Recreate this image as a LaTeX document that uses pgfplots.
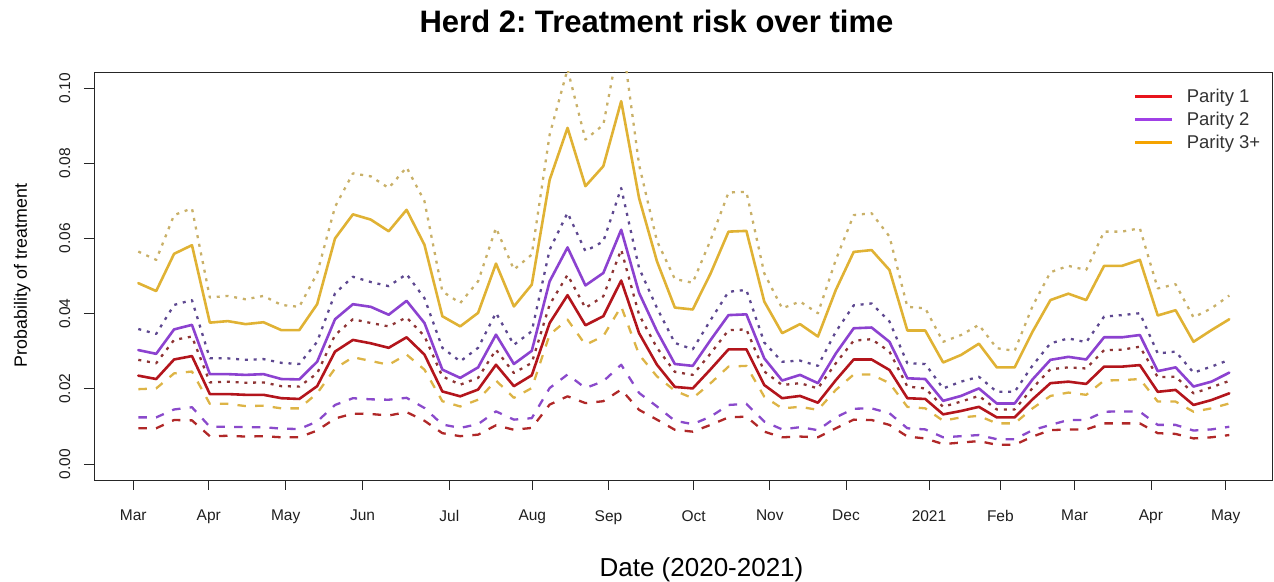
\documentclass[border=0pt]{standalone}
\usepackage{pgfplots}
\pgfplotsset{compat=1.18}
\usepackage{pgfplotstable}
\usepackage{fontspec}
\setmainfont{Liberation Sans}
\frenchspacing

% weekly estimates: mean (m), lower (lo) and upper (hi) bound per parity group
\pgfplotstableread{
k  m1     lo1    hi1    m2     lo2    hi2    m3     lo3    hi3
0  0.0235 0.0095 0.0277 0.0303 0.0124 0.0359 0.0481 0.0199 0.0565
1  0.0226 0.0095 0.0268 0.0293 0.0124 0.0346 0.0460 0.0201 0.0543
2  0.0278 0.0117 0.0330 0.0358 0.0145 0.0423 0.0559 0.0241 0.0662
3  0.0287 0.0116 0.0339 0.0370 0.0151 0.0436 0.0582 0.0246 0.0680
4  0.0186 0.0074 0.0217 0.0239 0.0099 0.0281 0.0376 0.0160 0.0443
5  0.0186 0.0075 0.0219 0.0239 0.0099 0.0281 0.0380 0.0160 0.0447
6  0.0184 0.0073 0.0216 0.0237 0.0098 0.0277 0.0372 0.0154 0.0438
7  0.0184 0.0074 0.0217 0.0239 0.0098 0.0279 0.0377 0.0155 0.0447
8  0.0175 0.0071 0.0207 0.0226 0.0094 0.0269 0.0356 0.0148 0.0423
9  0.0173 0.0071 0.0206 0.0225 0.0093 0.0266 0.0356 0.0148 0.0418
10 0.0207 0.0089 0.0241 0.0272 0.0113 0.0325 0.0425 0.0188 0.0507
11 0.0299 0.0121 0.0343 0.0385 0.0157 0.0454 0.0600 0.0254 0.0684
12 0.0330 0.0134 0.0385 0.0425 0.0175 0.0498 0.0664 0.0284 0.0773
13 0.0321 0.0133 0.0375 0.0418 0.0172 0.0484 0.0650 0.0274 0.0765
14 0.0309 0.0129 0.0366 0.0397 0.0171 0.0473 0.0619 0.0264 0.0734
15 0.0337 0.0138 0.0390 0.0434 0.0176 0.0505 0.0676 0.0291 0.0789
16 0.0291 0.0115 0.0340 0.0375 0.0149 0.0441 0.0583 0.0251 0.0699
17 0.0193 0.0082 0.0233 0.0251 0.0105 0.0309 0.0393 0.0167 0.0459
18 0.0180 0.0074 0.0211 0.0229 0.0096 0.0273 0.0366 0.0153 0.0428
19 0.0198 0.0078 0.0229 0.0257 0.0106 0.0309 0.0402 0.0171 0.0486
20 0.0264 0.0103 0.0304 0.0344 0.0140 0.0402 0.0533 0.0222 0.0628
21 0.0207 0.0091 0.0242 0.0266 0.0118 0.0317 0.0419 0.0176 0.0517
22 0.0236 0.0096 0.0269 0.0301 0.0122 0.0353 0.0477 0.0202 0.0557
23 0.0375 0.0158 0.0424 0.0486 0.0202 0.0570 0.0756 0.0344 0.0876
24 0.0449 0.0180 0.0503 0.0576 0.0238 0.0668 0.0894 0.0384 0.1050
25 0.0369 0.0162 0.0415 0.0475 0.0202 0.0566 0.0739 0.0317 0.0863
26 0.0393 0.0167 0.0446 0.0508 0.0220 0.0592 0.0792 0.0340 0.0902
27 0.0488 0.0198 0.0570 0.0623 0.0264 0.0734 0.0965 0.0419 0.1150
28 0.0348 0.0144 0.0397 0.0455 0.0189 0.0521 0.0707 0.0291 0.0796
29 0.0264 0.0118 0.0309 0.0353 0.0153 0.0415 0.0539 0.0233 0.0593
30 0.0205 0.0091 0.0245 0.0266 0.0115 0.0322 0.0416 0.0195 0.0492
31 0.0201 0.0086 0.0237 0.0261 0.0106 0.0305 0.0411 0.0175 0.0482
32 0.0252 0.0104 0.0294 0.0330 0.0126 0.0383 0.0507 0.0215 0.0596
33 0.0305 0.0124 0.0356 0.0396 0.0157 0.0458 0.0618 0.0259 0.0722
34 0.0305 0.0126 0.0358 0.0398 0.0160 0.0463 0.0620 0.0261 0.0724
35 0.0210 0.0086 0.0246 0.0281 0.0113 0.0323 0.0432 0.0179 0.0507
36 0.0175 0.0071 0.0210 0.0222 0.0092 0.0272 0.0348 0.0148 0.0414
37 0.0181 0.0073 0.0215 0.0237 0.0098 0.0275 0.0372 0.0152 0.0432
38 0.0163 0.0071 0.0201 0.0215 0.0090 0.0261 0.0339 0.0144 0.0401
39 0.0223 0.0095 0.0268 0.0294 0.0124 0.0352 0.0463 0.0197 0.0543
40 0.0278 0.0118 0.0328 0.0361 0.0147 0.0422 0.0564 0.0238 0.0662
41 0.0278 0.0117 0.0332 0.0363 0.0148 0.0427 0.0569 0.0238 0.0667
42 0.0250 0.0104 0.0299 0.0325 0.0135 0.0379 0.0516 0.0215 0.0605
43 0.0175 0.0073 0.0206 0.0228 0.0095 0.0268 0.0355 0.0152 0.0418
44 0.0173 0.0068 0.0201 0.0226 0.0092 0.0266 0.0355 0.0148 0.0414
45 0.0132 0.0053 0.0152 0.0168 0.0071 0.0201 0.0270 0.0115 0.0325
46 0.0141 0.0057 0.0166 0.0181 0.0074 0.0219 0.0290 0.0124 0.0343
47 0.0152 0.0061 0.0181 0.0201 0.0077 0.0232 0.0320 0.0128 0.0370
48 0.0124 0.0051 0.0145 0.0161 0.0066 0.0192 0.0257 0.0108 0.0308
49 0.0124 0.0051 0.0145 0.0161 0.0066 0.0192 0.0257 0.0108 0.0301
50 0.0172 0.0073 0.0202 0.0225 0.0090 0.0262 0.0352 0.0148 0.0420
51 0.0215 0.0090 0.0252 0.0277 0.0104 0.0321 0.0436 0.0181 0.0510
52 0.0219 0.0092 0.0257 0.0285 0.0117 0.0334 0.0453 0.0190 0.0527
53 0.0213 0.0092 0.0254 0.0278 0.0117 0.0324 0.0436 0.0184 0.0516
54 0.0259 0.0108 0.0303 0.0337 0.0139 0.0392 0.0527 0.0222 0.0618
55 0.0259 0.0108 0.0304 0.0337 0.0140 0.0396 0.0527 0.0223 0.0618
56 0.0263 0.0108 0.0312 0.0343 0.0139 0.0401 0.0543 0.0226 0.0627
57 0.0192 0.0082 0.0231 0.0247 0.0104 0.0294 0.0395 0.0166 0.0467
58 0.0197 0.0080 0.0232 0.0257 0.0104 0.0299 0.0409 0.0166 0.0478
59 0.0157 0.0068 0.0188 0.0206 0.0089 0.0243 0.0325 0.0139 0.0390
60 0.0170 0.0071 0.0204 0.0219 0.0092 0.0259 0.0356 0.0148 0.0414
61 0.0188 0.0077 0.0221 0.0243 0.0099 0.0277 0.0385 0.0161 0.0448
}\riskdata

\definecolor{pOne}{HTML}{B3151C}
\definecolor{pOneLo}{HTML}{B02828}
\definecolor{pOneHi}{HTML}{8E3434}
\definecolor{pTwo}{HTML}{8C42D0}
\definecolor{pTwoLo}{HTML}{8A4ACB}
\definecolor{pTwoHi}{HTML}{5E4890}
\definecolor{pThree}{HTML}{E0B234}
\definecolor{pThreeLo}{HTML}{DDB446}
\definecolor{pThreeHi}{HTML}{C9B068}
\definecolor{legOne}{HTML}{E8141C}
\definecolor{legTwo}{HTML}{A040E6}
\definecolor{legThree}{HTML}{F5A300}

\begin{document}
\begin{tikzpicture}
\path[use as bounding box] (0,0) rectangle (1274bp,582bp);
\begin{axis}[
  at={(94bp,102bp)}, anchor=south west,
  scale only axis, width=1178bp, height=408bp,
  xmin=-2.477, xmax=63.39, ymin=-0.004255, ymax=0.10426,
  axis line style={draw=black!85, line width=0.9bp},
  tick style={black!85, line width=0.9bp},
  tick align=outside, major tick length=10bp, tick pos=left,
  xtick={-0.28,3.94,8.24,12.54,17.39,22.03,26.29,31.05,35.31,39.57,44.21,48.2,52.35,56.62,60.8},
  xticklabels={Mar,Apr,May,Jun,Jul,Aug,Sep,Oct,Nov,Dec,2021,Feb,Mar,Apr,May},
  ytick={0,0.02,0.04,0.06,0.08,0.1},
  yticklabels={0.00,0.02,0.04,0.06,0.08,0.10},
  xticklabel style={font=\fontsize{15.5bp}{18bp}\selectfont, text=black!88, anchor=north, inner sep=0pt},
  xticklabel shift=20bp,
  yticklabel style={font=\fontsize{15.5bp}{18bp}\selectfont, text=black!88, rotate=90, anchor=south, inner sep=0pt},
  yticklabel shift=13.5bp,
  title={Herd 2: Treatment risk over time},
  title style={at={(axis description cs:0.4775,1.081)}, anchor=base, font=\bfseries\fontsize{31bp}{34bp}\selectfont},
  xlabel={Date (2020-2021)},
  xlabel style={at={(axis description cs:0.5157,-0.2353)}, anchor=base, font=\fontsize{26bp}{30bp}\selectfont},
  ylabel={Probability of treatment},
  ylabel style={at={(axis description cs:-0.0569,0.5012)}, anchor=base, font=\fontsize{17.8bp}{20bp}\selectfont},
  legend style={at={(axis description cs:0.8795,0.9633)}, anchor=north west, draw=none, fill=none,
    font=\fontsize{18.5bp}{20bp}\selectfont, text=black!80, row sep=8bp, nodes={inner sep=0pt},
    /tikz/every odd column/.append style={column sep=13bp}},
  legend cell align=left,
  legend image code/.code={\draw[#1, line width=3.5bp] (0bp,0bp) -- (37bp,0bp);},
  every axis plot/.append style={line join=round},
  solid line/.style={line width=2.6bp, line cap=round},
  lo line/.style={line width=2.3bp, dash pattern=on 8.5bp off 9.2bp},
  hi line/.style={line width=2.3bp, dash pattern=on 3bp off 5.8bp},
]
\addlegendimage{legOne}\addlegendentry{Parity 1}
\addlegendimage{legTwo}\addlegendentry{Parity 2}
\addlegendimage{legThree}\addlegendentry{Parity 3+}

% parity 3+
\addplot[forget plot, pThreeHi, hi line] table[x=k, y=hi3] {\riskdata};
\addplot[forget plot, pThreeLo, lo line] table[x=k, y=lo3] {\riskdata};
\addplot[forget plot, pThree, solid line] table[x=k, y=m3] {\riskdata};
% parity 2
\addplot[forget plot, pTwoHi, hi line] table[x=k, y=hi2] {\riskdata};
\addplot[forget plot, pTwoLo, lo line] table[x=k, y=lo2] {\riskdata};
\addplot[forget plot, pTwo, solid line] table[x=k, y=m2] {\riskdata};
% parity 1
\addplot[forget plot, pOneHi, hi line] table[x=k, y=hi1] {\riskdata};
\addplot[forget plot, pOneLo, lo line] table[x=k, y=lo1] {\riskdata};
\addplot[forget plot, pOne, solid line] table[x=k, y=m1] {\riskdata};
\end{axis}
\end{tikzpicture}
\end{document}
